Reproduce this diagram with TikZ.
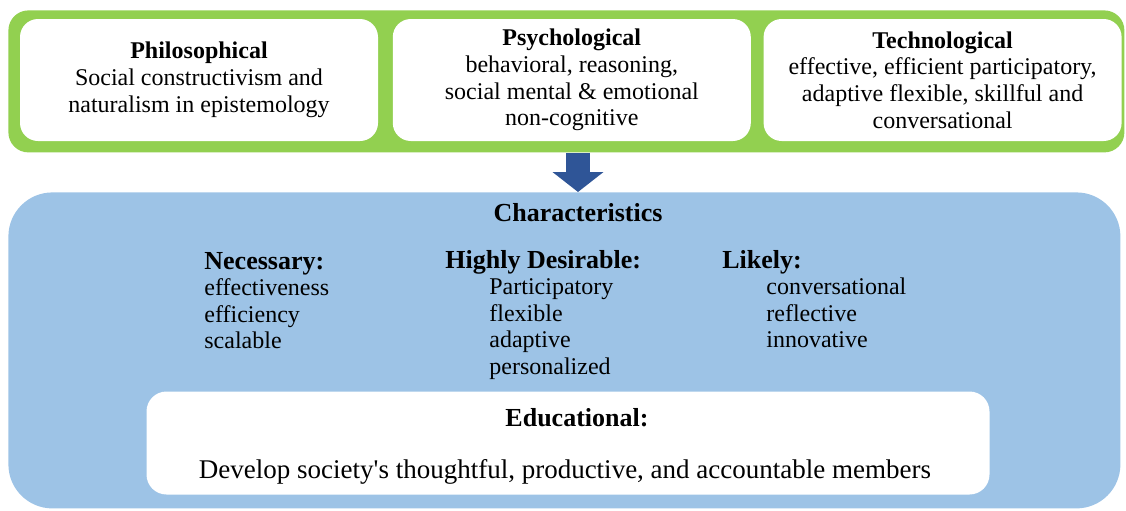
\documentclass[tikz,border=0pt]{standalone}
\usepackage{fontspec}
\setmainfont{Liberation Serif}
\usetikzlibrary{positioning,arrows.meta}
\definecolor{leafgreen}{HTML}{92D050}
\definecolor{skyblue}{HTML}{9DC3E6}
\definecolor{arrowblue}{HTML}{2F5597}

\begin{document}
\begin{tikzpicture}[
    x=0.5pt, y=-0.5pt,
    node distance=7pt,
    every node/.style={inner sep=0pt},
    card/.style={fill=white, rounded corners=9pt, minimum width=179pt, minimum height=61pt,
        align=center, font=\fontsize{12}{13.4}\selectfont},
    head/.style={font=\fontsize{13}{15}\selectfont\bfseries},
    column/.style={align=left, anchor=north west, font=\fontsize{12}{13.25}\selectfont}
]
\useasboundingbox (0,0) rectangle (1126,510);

% Bandeau du haut
\node[fill=leafgreen, rounded corners=10pt, minimum width=558pt, minimum height=71pt,
    anchor=north west] (bases) at (8,10) {};

\node[card] (philo) at (199,80) {\textbf{Philosophical}\\
Social constructivism and\\
naturalism in epistemology};

\node[card, right=of philo] (psycho) {\textbf{Psychological}\\
behavioral, reasoning,\\
social mental \& emotional\\
non-cognitive};

\node[card, right=6pt of psycho] (techno) {\textbf{Technological}\\
effective, efficient participatory,\\
adaptive flexible, skillful and\\
conversational};

% Cadre des caracteristiques
\node[fill=skyblue, rounded corners=22pt, minimum width=556pt, minimum height=158pt,
    anchor=north west] (traits) at (8,192) {};

\node[head] (titre) at (578,213) {Characteristics};

\node[column] (necessary) at (204,252) {{\bfseries\fontsize{13}{15}\selectfont Necessary:}\\
effectiveness\\
efficiency\\
scalable};

\node[column] (desirable) at (445,250) {{\bfseries\fontsize{13}{15}\selectfont Highly Desirable:}\\
\hspace*{22pt}Participatory\\
\hspace*{22pt}flexible\\
\hspace*{22pt}adaptive\\
\hspace*{22pt}personalized};

\node[column] (likely) at (722,250) {{\bfseries\fontsize{13}{15}\selectfont Likely:}\\
\hspace*{22pt}conversational\\
\hspace*{22pt}reflective\\
\hspace*{22pt}innovative};

% Cadre educatif
\node[fill=white, rounded corners=10pt, minimum width=421.5pt, minimum height=51.5pt] (educ) at (568,443) {};
\node[head] (educhead) at (577,418) {Educational:};
\node[font=\fontsize{13.5}{15}\selectfont] (eductext) at (565,472)
    {Develop society\textquotesingle s thoughtful, productive, and accountable members};

% Fleche
\draw[arrowblue, line width=12pt, -{Triangle[width=25pt, length=10pt]}] (bases.south -| titre) -- (traits.north -| titre);

\end{tikzpicture}
\end{document}
